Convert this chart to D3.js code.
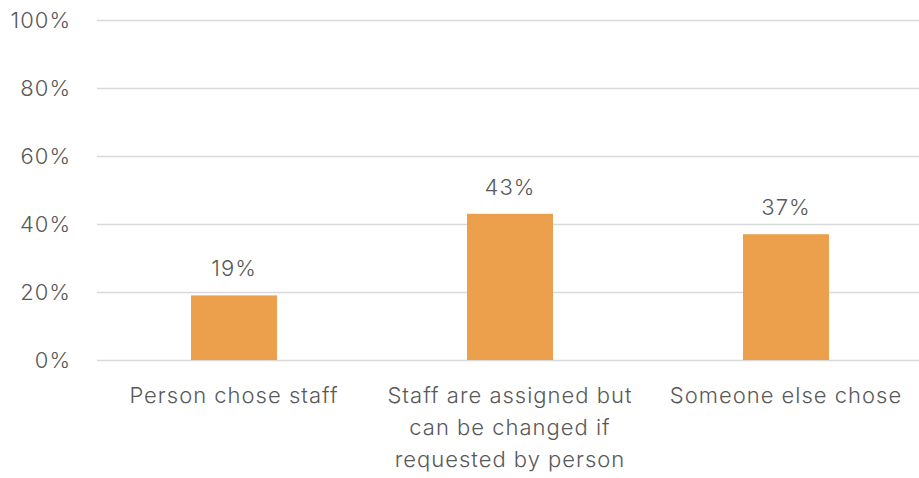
<!DOCTYPE html>
<html><head><meta charset="utf-8">
<script src="https://cdn.jsdelivr.net/npm/d3@7"></script>
<style>
html,body{margin:0;padding:0;background:#fff;}
svg{display:block;font-family:Inter,"Open Sans",sans-serif;font-weight:300;letter-spacing:1px;}
</style></head>
<body><svg id="chart" width="919" height="478"></svg>
<script>
const categories = [
  ["Person chose staff"],
  ["Staff are assigned but", "can be changed if", "requested by person"],
  ["Someone else chose"]
];
const values = [19, 43, 37];
const yTicks = [0, 20, 40, 60, 80, 100];

const svg = d3.select("#chart");
const margin = {left: 96, right: -5, top: 20, bottom: 118};
const W = 919, H = 478;
const xc = d3.scaleBand().domain(d3.range(categories.length)).range([margin.left, W - margin.right]);
const y = d3.scaleLinear().domain([0, 100]).range([H - margin.bottom, margin.top]);

const textColor = "#595959";

// gridlines
svg.append("g").selectAll("line").data(yTicks).join("line")
  .attr("x1", 97).attr("x2", W)
  .attr("y1", d => Math.round(y(d)) + 0.5).attr("y2", d => Math.round(y(d)) + 0.5)
  .attr("stroke", "#d9d9d9").attr("stroke-width", 1.5);

// y axis labels
svg.append("g").selectAll("text").data(yTicks).join("text")
  .attr("x", 71).attr("y", d => y(d)).attr("dy", "0.35em")
  .attr("text-anchor", "end").attr("fill", textColor).attr("font-size", 22)
  .text(d => d + "%");

// bars
svg.append("g").selectAll("rect").data(values).join("rect")
  .attr("x", (d, i) => xc(i) + xc.bandwidth() / 2 - 43)
  .attr("width", 86)
  .attr("y", d => y(d)).attr("height", d => y(0) - y(d))
  .attr("fill", "#EDA04C");

// value labels
svg.append("g").selectAll("text").data(values).join("text")
  .attr("x", (d, i) => xc(i) + xc.bandwidth() / 2)
  .attr("y", d => y(d) - 19)
  .attr("text-anchor", "middle").attr("fill", textColor).attr("font-size", 22)
  .text(d => d + "%");

// category labels
const cat = svg.append("g").selectAll("text").data(categories).join("text")
  .attr("x", (d, i) => xc(i) + xc.bandwidth() / 2)
  .attr("y", 403)
  .attr("text-anchor", "middle").attr("fill", textColor).attr("font-size", 22);
cat.selectAll("tspan").data(d => d).join("tspan")
  .attr("x", function() { return this.parentNode.getAttribute("x"); })
  .attr("dy", (d, i) => i === 0 ? 0 : 32)
  .text(d => d);
</script></body></html>
